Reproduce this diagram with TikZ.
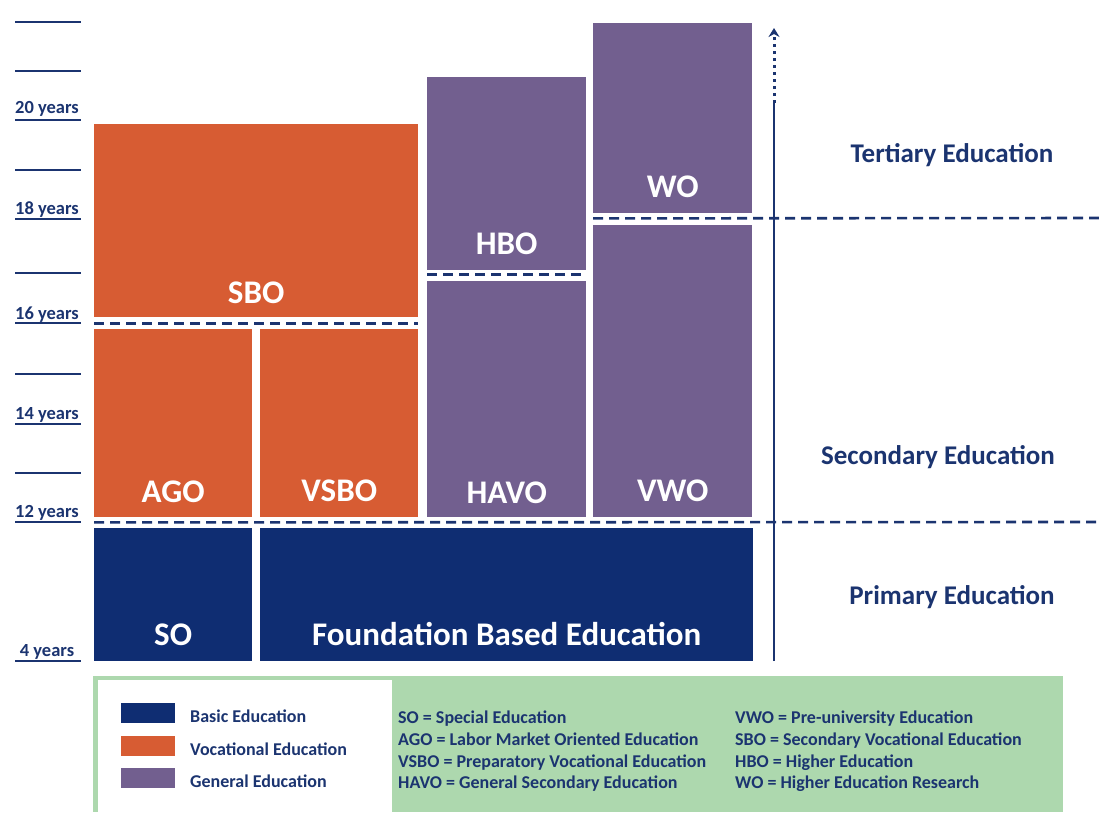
\documentclass[tikz,border=0pt]{standalone}
\usepackage{fontspec}
\setmainfont{Carlito}
\usetikzlibrary{
  arrows.meta,
  positioning
}
\definecolor{eduBasic}{RGB}{15,45,114}
\definecolor{eduVoc}{RGB}{215,92,51}
\definecolor{eduGen}{RGB}{114,95,143}
\definecolor{eduInk}{RGB}{27,52,112}
\definecolor{eduKey}{RGB}{173,216,174}
\tikzset{
  edubox/.style={
    draw=none,
    inner sep=0pt,
    anchor=north west
  },
  basicbox/.style={edubox, fill=eduBasic},
  vocbox/.style={edubox, fill=eduVoc},
  genbox/.style={edubox, fill=eduGen},
  boxtext/.style={
    text=white,
    font=\fontsize{33}{35}\selectfont\bfseries,
    inner sep=0pt
  },
  agetick/.style={
    draw=eduInk,
    line width=2.8pt
  },
  agelabel/.style={
    text=eduInk,
    font=\fontsize{18.5}{20}\selectfont\bfseries,
    inner sep=0pt,
    anchor=base
  },
  levelsep/.style={
    draw=eduInk,
    line width=2.6pt,
    dash pattern=on 10pt off 6pt
  },
  levellabel/.style={
    text=eduInk,
    font=\fontsize{27}{29}\selectfont\bfseries,
    inner sep=0pt
  },
  keytext/.style={
    text=eduInk,
    font=\fontsize{18}{19}\selectfont\bfseries,
    inner sep=0pt,
    anchor=base west
  }
}

\begin{document}
\begin{tikzpicture}[x=1pt, y=-1pt]
  \useasboundingbox (0,0) rectangle (1099,812);

  % age scale on the left
  \foreach \y in {22,71,120,170,219,273,323,374,424,473,522,661}
    \draw[agetick] (15,\y) -- (81,\y);
  \foreach \y/\age in {113/20,214/18,319/16,419/14,517/12,656/4}
    \node[agelabel] (age\age) at (47,\y) {\age\ years};

  % vocational track
  \node[vocbox, minimum width=324, minimum height=193] (sbo) at (94,124) {};
  \node[vocbox, minimum width=158, minimum height=188] (ago) at (94,329) {};
  \node[vocbox, minimum width=158, minimum height=188] (vsbo) at (260,329) {};

  % general track
  \node[genbox, minimum width=159, minimum height=193] (hbo) at (427,77) {};
  \node[genbox, minimum width=159, minimum height=236] (havo) at (427,281) {};
  \node[genbox, minimum width=159, minimum height=190] (wo) at (593,23) {};
  \node[genbox, minimum width=159, minimum height=292] (vwo) at (593,225) {};

  % basic education
  \node[basicbox, minimum width=158, minimum height=133] (so) at (94,528) {};
  \node[basicbox, minimum width=493, minimum height=133] (fbe) at (260,528) {};

  \node[boxtext, above=13pt of sbo.south] {SBO};
  \node[boxtext, above=14pt of ago.south] {AGO};
  \node[boxtext, above=15pt of vsbo.south] {VSBO};
  \node[boxtext, above=13pt of havo.south] {HAVO};
  \node[boxtext, above=15pt of vwo.south] {VWO};
  \node[boxtext, above=15pt of hbo.south] {HBO};
  \node[boxtext, above=15pt of wo.south] {WO};
  \node[boxtext, above=15pt of so.south] {SO};
  \node[boxtext, above=15pt of fbe.south] {Foundation Based Education};

  % stage boundaries
  \coordinate (tertiaryend) at (1099,218);
  \coordinate (primaryend) at (1099,522);
  \draw[levelsep] (sbo.south west) ++(0,6) -- ++(324,0);
  \draw[levelsep] (hbo.south west) ++(0,4) -- ++(159,0);
  \draw[levelsep] (wo.south west) ++(0,5) -- (tertiaryend);
  \draw[levelsep] (ago.south west) ++(0,5) -- (primaryend);

  % age axis
  \coordinate (axisbase) at (774,661);
  \coordinate (axismid) at (774,103);
  \coordinate (axistip) at (774,28);
  \draw[eduInk, line width=2.6pt] (axisbase) -- (axismid);
  \draw[eduInk, line width=3pt, dash pattern=on 3.5pt off 3.5pt,
    -{Stealth[length=9pt,width=11pt,inset=3pt]}] (axismid) -- (axistip);

  \node[levellabel] (tertiary) at (952,155) {Tertiary Education};
  \node[levellabel] (secondary) at (938,457) {Secondary Education};
  \node[levellabel] (primary) at (952,597) {Primary Education};

  % key
  \fill[eduKey] (93,676) rectangle (1063,812);
  \fill[white] (98,680) rectangle (392,812);
  \fill[eduBasic] (121,703) rectangle (175,723);
  \fill[eduVoc] (121,736) rectangle (175,756);
  \fill[eduGen] (121,768) rectangle (175,788);
  \node[keytext] (keybasic) at (190,722) {Basic Education};
  \node[keytext] (keyvoc) at (190,755) {Vocational Education};
  \node[keytext] (keygen) at (190,787) {General Education};

  \node[keytext] (soname) at (398,723) {SO = Special Education};
  \node[keytext] (agoname) at (398,745) {AGO = Labor Market Oriented Education};
  \node[keytext] (vsboname) at (398,767) {VSBO = Preparatory Vocational Education};
  \node[keytext] (havoname) at (398,788) {HAVO = General Secondary Education};
  \node[keytext] (vwoname) at (735,723) {VWO = Pre-university Education};
  \node[keytext] (sboname) at (735,745) {SBO = Secondary Vocational Education};
  \node[keytext] (hboname) at (735,767) {HBO = Higher Education};
  \node[keytext] (woname) at (735,788) {WO = Higher Education Research};
\end{tikzpicture}
\end{document}
